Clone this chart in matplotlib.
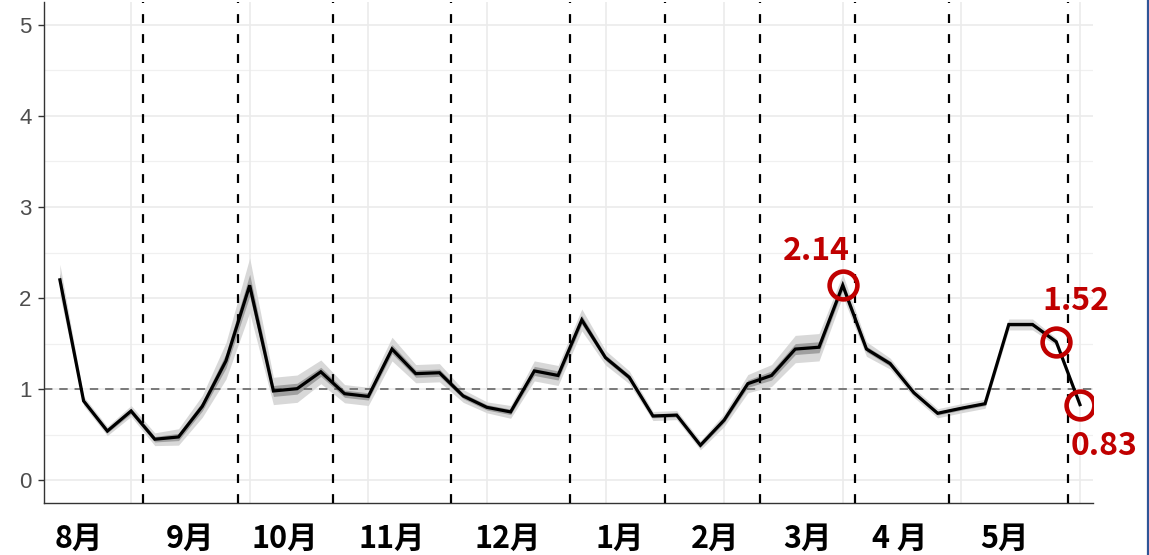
import matplotlib
matplotlib.use("Agg")
import matplotlib.pyplot as plt
from matplotlib.lines import Line2D
import numpy as np

plt.rcParams['font.family'] = ['Noto Sans CJK JP', 'DejaVu Sans']

# ---- data ----
week = list(range(44))
rt = [2.20, 0.87, 0.54, 0.76, 0.45, 0.475, 0.81, 1.31, 2.14, 0.98,
      1.005, 1.19, 0.95, 0.92, 1.44, 1.17, 1.18, 0.925, 0.80, 0.75,
      1.20, 1.15, 1.76, 1.345, 1.13, 0.705, 0.715, 0.384, 0.66, 1.06,
      1.15, 1.44, 1.46, 2.14, 1.44, 1.28, 0.96, 0.735, 0.79, 0.84,
      1.71, 1.71, 1.52, 0.83]
ci_outer = [0.17, 0.05, 0.05, 0.06, 0.07, 0.09, 0.12, 0.20, 0.30, 0.15,
            0.15, 0.13, 0.10, 0.10, 0.13, 0.10, 0.10, 0.07, 0.06, 0.07,
            0.11, 0.11, 0.12, 0.08, 0.07, 0.05, 0.05, 0.05, 0.07, 0.10,
            0.12, 0.15, 0.15, 0.12, 0.08, 0.06, 0.05, 0.05, 0.05, 0.05,
            0.06, 0.06, 0.04, 0.02]
ci_inner = [0.07, 0.02, 0.02, 0.03, 0.03, 0.04, 0.05, 0.08, 0.12, 0.06,
            0.06, 0.05, 0.04, 0.04, 0.05, 0.04, 0.04, 0.03, 0.03, 0.03,
            0.05, 0.05, 0.05, 0.03, 0.03, 0.02, 0.02, 0.02, 0.03, 0.04,
            0.05, 0.06, 0.06, 0.05, 0.03, 0.03, 0.02, 0.02, 0.02, 0.02,
            0.02, 0.02, 0.02, 0.01]
month_bounds = [3.5, 7.5, 11.5, 16.5, 21.5, 25.5, 29.5, 33.5, 37.5, 42.5]
month_labels = ["8月", "9月", "10月", "11月", "12月", "1月", "2月", "3月", "4 月", "5月"]
month_label_pos = [0.8, 5.5, 9.5, 14.0, 18.9, 23.6, 27.6, 31.5, 35.4, 39.8]
highlight_idx = [33, 42, 43]
highlight_offsets = [(-19, 25), (14, 29), (17, -30)]
yticks = [0, 1, 2, 3, 4, 5]
xgrid = [3, 8, 13, 18, 23, 28, 33, 38, 43]

x = np.array(week, dtype=float)
r = np.array(rt)
co = np.array(ci_outer)
cin = np.array(ci_inner)

fig = plt.figure(figsize=(11.49, 5.55), dpi=100)
ax = fig.add_axes([44/1149, 52/555, (1093-44)/1149, (553-52)/555])

ax.set_xlim(-0.67, 43.55)
ax.set_ylim(-0.25, 5.25)

# grid
for v in yticks:
    ax.axhline(v, color='#ebebeb', lw=1.2, zorder=0)
for v in [0.5, 1.5, 2.5, 3.5, 4.5]:
    ax.axhline(v, color='#f0f0f0', lw=0.9, zorder=0)
for v in xgrid:
    ax.axvline(v, color='#ebebeb', lw=1.2, zorder=0)

# reference line
ax.axhline(1, color='#5a5a5a', lw=1.1, linestyle=(0, (5.5, 4.5)), zorder=2)

# month boundaries
for b in month_bounds:
    ax.axvline(b, color='black', lw=1.6, linestyle=(0, (4.0, 5.0)), zorder=3)

# ribbons
ax.fill_between(x, r - co, r + co, color='#d8d8d8', lw=0, zorder=1)
ax.fill_between(x, r - cin, r + cin, color='#a0a0a0', lw=0, zorder=1.5)
ax.plot(x, r, color='black', lw=2.3, zorder=4, solid_joinstyle='miter')

# highlights
red = '#C00000'
for i, (dx, dy) in zip(highlight_idx, highlight_offsets):
    ax.plot(x[i], r[i], marker='o', markersize=20, markerfacecolor='none',
            markeredgecolor=red, markeredgewidth=3.3, zorder=6)
    ax.annotate(f"{rt[i]:.2f}", (x[i], r[i]), xytext=(dx, dy),
                textcoords='offset points', ha='center', va='center',
                color=red, fontsize=23, fontweight='bold', zorder=7,
                family=['Noto Sans CJK JP', 'DejaVu Sans'])

# axes styling
for s in ['top', 'right']:
    ax.spines[s].set_visible(False)
ax.spines['left'].set_color('#333333')
ax.spines['bottom'].set_color('#333333')
ax.spines['left'].set_linewidth(1.0)
ax.spines['bottom'].set_linewidth(1.0)
ax.set_yticks(yticks)
ax.set_yticklabels([str(v) for v in yticks], family=['Liberation Sans', 'DejaVu Sans'])
ax.tick_params(axis='y', colors='#333333', labelcolor='#4d4d4d', labelsize=16,
               length=4, width=1.0, pad=5)
ax.set_xticks([])

# month labels
for lab, pos in zip(month_labels, month_label_pos):
    ax.text(pos, -0.072, lab, transform=ax.get_xaxis_transform(),
            ha='center', va='center', fontsize=22, fontweight='bold', color='black',
            family=['Noto Sans CJK JP', 'DejaVu Sans'])

# slide border line at right edge
fig.add_artist(Line2D([1147.5/1149, 1147.5/1149], [0, 1], transform=fig.transFigure,
                      color='#2F5597', lw=1.6))

fig.savefig('out.png', dpi=100)
